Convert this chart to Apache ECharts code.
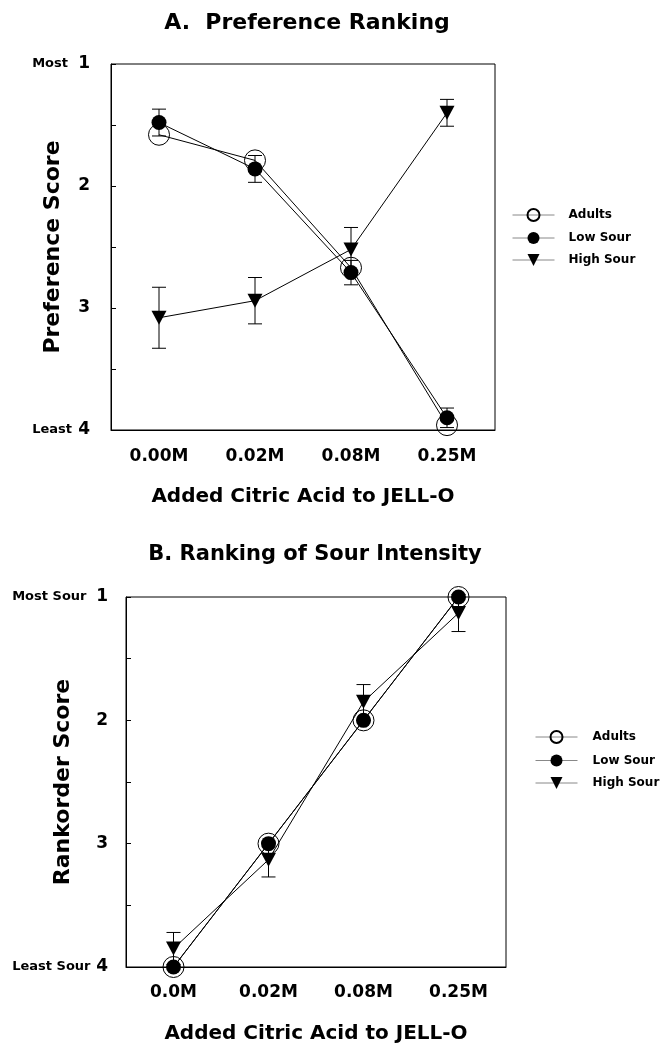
<!DOCTYPE html>
<html>
<head>
<meta charset="utf-8">
<script src="https://cdn.jsdelivr.net/npm/echarts@6/dist/echarts.min.js"></script>
<style>html,body{margin:0;padding:0;background:#fff}#c{width:670px;height:1050px}</style>
</head>
<body>
<div id="c"></div>
<script>
// ---- data ----
const categoriesA = ['0.00M', '0.02M', '0.08M', '0.25M'];
const categoriesB = ['0.0M', '0.02M', '0.08M', '0.25M'];
const seriesNames = ['Adults', 'Low Sour', 'High Sour'];
const adultsA = [1.58, 1.79, 2.67, 3.96];
const lowSourA = [1.48, 1.86, 2.71, 3.90];
const highSourA = [3.08, 2.94, 2.52, 1.40];
const lowSourErrA = [0.11, 0.11, 0.10, 0.08];
const highSourErrA = [0.25, 0.19, 0.18, 0.11];
const adultsB = [4.0, 3.0, 2.0, 1.0];
const lowSourB = [4.0, 3.0, 2.0, 1.0];
const highSourB = [3.85, 3.13, 1.85, 1.13];
const highSourErrB = [0.13, 0.14, 0.14, 0.15];
const yTickLabels = [1, 2, 3, 4];
const endLabelsA = ['Most', 'Least'];
const endLabelsB = ['Most Sour', 'Least Sour'];

const FONT = 'DejaVu Sans';

function yFormatter(ends) {
  return function (v) {
    if (v === yTickLabels[0]) return '{m|' + ends[0] + '}{n|' + v + '}';
    if (v === yTickLabels[yTickLabels.length - 1]) return '{m|' + ends[1] + '}{n|' + v + '}';
    if (yTickLabels.indexOf(v) >= 0) return '{n|' + v + '}';
    return '';
  };
}

function errSeries(vals, errs, gi, capW) {
  return {
    type: 'custom',
    xAxisIndex: gi, yAxisIndex: gi,
    silent: true,
    z: 1,
    data: vals.map((v, i) => [i, v, errs[i]]),
    renderItem: function (params, api) {
      const x = api.value(0), v = api.value(1), e = api.value(2);
      const top = api.coord([x, v - e]);
      const bot = api.coord([x, v + e]);
      const st = { stroke: '#000', lineWidth: 1 };
      return {
        type: 'group',
        children: [
          { type: 'line', shape: { x1: top[0], y1: top[1], x2: bot[0], y2: bot[1] }, style: st },
          { type: 'line', shape: { x1: top[0] - capW / 2, y1: top[1], x2: top[0] + capW / 2, y2: top[1] }, style: st },
          { type: 'line', shape: { x1: bot[0] - capW / 2, y1: bot[1], x2: bot[0] + capW / 2, y2: bot[1] }, style: st }
        ]
      };
    }
  };
}

function lineSeries(name, data, gi, kind) {
  const s = {
    type: 'line', name: name, data: data,
    xAxisIndex: gi, yAxisIndex: gi,
    z: 3,
    lineStyle: { color: '#000', width: 1 },
    emphasis: { disabled: true }
  };
  if (kind === 'open') {
    s.symbol = 'circle'; s.symbolSize = 21;
    s.itemStyle = { color: 'rgba(255,255,255,0)', borderColor: '#000', borderWidth: 1 };
  } else if (kind === 'filled') {
    s.symbol = 'circle'; s.symbolSize = 15;
    s.itemStyle = { color: '#000', borderColor: '#000', borderWidth: 0 };
  } else {
    s.symbol = 'triangle'; s.symbolSize = [15, 14]; s.symbolRotate = 180;
    s.itemStyle = { color: '#000', borderColor: '#000', borderWidth: 0 };
  }
  return s;
}

function xAxisCfg(cats, gi, labelMargin, nameGap) {
  return {
    type: 'category', gridIndex: gi, data: cats, boundaryGap: true,
    name: 'Added Citric Acid to JELL-O', nameLocation: 'middle', nameGap: nameGap,
    nameMoveOverlap: false,
    nameTextStyle: { fontFamily: FONT, fontWeight: 'bold', fontSize: 20, color: '#000' },
    axisLine: { lineStyle: { color: '#000', width: 1 } },
    axisTick: { inside: true, length: 6, alignWithLabel: true, lineStyle: { color: '#000' } },
    axisLabel: { margin: labelMargin, fontFamily: FONT, fontWeight: 'bold', fontSize: 17, color: '#000' },
    splitLine: { show: false }
  };
}

function yAxisCfg(gi, name, nameGap, ends, mWidth, labelMargin) {
  return {
    type: 'value', gridIndex: gi, min: 1, max: 4, interval: 0.5, inverse: true,
    name: name, nameLocation: 'middle', nameGap: nameGap, nameRotate: 90,
    nameMoveOverlap: false,
    nameTextStyle: { fontFamily: FONT, fontWeight: 'bold', fontSize: 22, color: '#000' },
    axisLine: { show: true, lineStyle: { color: '#000', width: 1 } },
    axisTick: { show: true, inside: true, length: 5, lineStyle: { color: '#000' } },
    splitLine: { show: false },
    axisLabel: {
      margin: labelMargin, formatter: yFormatter(ends), color: '#000',
      rich: {
        m: { fontFamily: FONT, fontWeight: 'bold', fontSize: 13, width: mWidth, align: 'left', color: '#000' },
        n: { fontFamily: FONT, fontWeight: 'bold', fontSize: 17, color: '#000' }
      }
    }
  };
}

const chart = echarts.init(document.getElementById('c'), null, { renderer: 'canvas' });
chart.setOption({
  animation: false,
  backgroundColor: '#fff',
  title: [
    { text: 'A.  Preference Ranking', left: 302, top: 7, textAlign: 'center',
      textStyle: { fontFamily: FONT, fontWeight: 'bold', fontSize: 22, color: '#000' } },
    { text: 'B. Ranking of Sour Intensity', left: 310, top: 539, textAlign: 'center',
      textStyle: { fontFamily: FONT, fontWeight: 'bold', fontSize: 21, color: '#000' } }
  ],
  legend: [
    { data: seriesNames, orient: 'vertical', left: 512, top: 208, padding: 0, itemWidth: 42, itemHeight: 15, itemGap: 10,
      lineStyle: { color: '#888', width: 1 },
      textStyle: { fontFamily: FONT, fontWeight: 'bold', fontSize: 12, color: '#000', padding: [0, 0, 0, 9] } },
    { data: seriesNames, orient: 'vertical', left: 535, top: 730, padding: 0, itemWidth: 42, itemHeight: 15, itemGap: 10.5,
      lineStyle: { color: '#888', width: 1 },
      textStyle: { fontFamily: FONT, fontWeight: 'bold', fontSize: 12, color: '#000', padding: [0, 0, 0, 10] } }
  ],
  grid: [
    { left: 111, top: 64, width: 384, height: 366, show: true, borderColor: '#000', borderWidth: 1,
      containLabel: false, outerBoundsMode: 'none' },
    { left: 126, top: 597, width: 380, height: 370, show: true, borderColor: '#000', borderWidth: 1,
      containLabel: false, outerBoundsMode: 'none' }
  ],
  xAxis: [xAxisCfg(categoriesA, 0, 18, 57), xAxisCfg(categoriesB, 1, 17, 57)],
  yAxis: [yAxisCfg(0, 'Preference Score', 47, endLabelsA, 46, 21), yAxisCfg(1, 'Rankorder Score', 52, endLabelsB, 84, 18)],
  series: [
    errSeries(lowSourA, lowSourErrA, 0, 14),
    errSeries(highSourA, highSourErrA, 0, 14),
    errSeries(highSourB, highSourErrB, 1, 14),
    lineSeries('Adults', adultsA, 0, 'open'),
    lineSeries('Low Sour', lowSourA, 0, 'filled'),
    lineSeries('High Sour', highSourA, 0, 'tri'),
    lineSeries('Adults', adultsB, 1, 'open'),
    lineSeries('Low Sour', lowSourB, 1, 'filled'),
    lineSeries('High Sour', highSourB, 1, 'tri')
  ]
});
</script>
</body>
</html>
